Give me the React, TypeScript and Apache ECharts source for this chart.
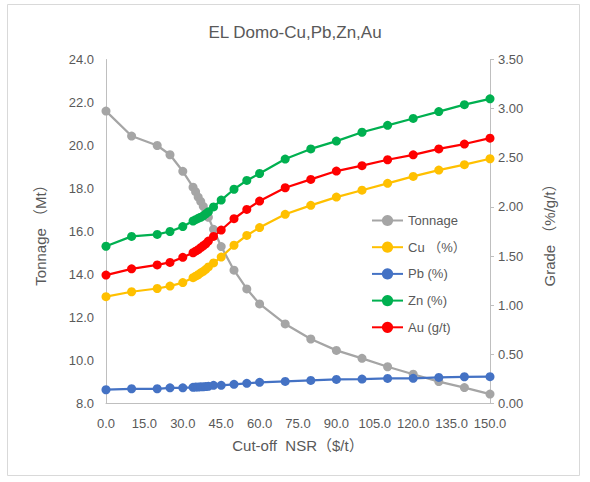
import React, { useEffect, useRef } from "react";
import * as echarts from "echarts";

const cutoff = [0, 10, 20, 25, 30, 34, 35, 36, 37, 38, 39, 40, 42, 45, 50, 55, 60, 70, 80, 90, 100, 110, 120, 130, 140, 150];
const tonnage = [21.6, 20.44, 20.0, 19.57, 18.8, 18.06, 17.85, 17.6, 17.4, 17.17, 16.9, 16.66, 16.1, 15.3, 14.2, 13.33, 12.63, 11.7, 11.0, 10.47, 10.1, 9.71, 9.36, 9.02, 8.74, 8.44];
const cu = [1.087, 1.137, 1.17, 1.195, 1.23, 1.28, 1.295, 1.31, 1.33, 1.345, 1.365, 1.39, 1.43, 1.49, 1.61, 1.71, 1.79, 1.925, 2.016, 2.1, 2.17, 2.24, 2.31, 2.375, 2.43, 2.49];
const pb = [0.14, 0.15, 0.15, 0.16, 0.16, 0.165, 0.167, 0.168, 0.17, 0.17, 0.172, 0.175, 0.185, 0.185, 0.195, 0.205, 0.215, 0.225, 0.235, 0.245, 0.248, 0.255, 0.256, 0.265, 0.272, 0.273];
const zn = [1.6, 1.7, 1.72, 1.75, 1.8, 1.857, 1.87, 1.884, 1.895, 1.91, 1.93, 1.95, 2.0, 2.07, 2.18, 2.27, 2.34, 2.487, 2.59, 2.67, 2.76, 2.83, 2.9, 2.97, 3.04, 3.1];
const au = [1.307, 1.37, 1.41, 1.435, 1.487, 1.534, 1.55, 1.565, 1.585, 1.605, 1.625, 1.653, 1.7, 1.765, 1.88, 1.975, 2.06, 2.195, 2.28, 2.365, 2.42, 2.48, 2.53, 2.59, 2.64, 2.7];

const seriesNames = ["Tonnage", "Cu （%）", "Pb (%)", "Zn (%)", "Au (g/t)"];
const seriesColors = ["#A5A5A5", "#FFC000", "#4472C4", "#00B050", "#FF0000"];

const FONT = "'Liberation Sans', 'Noto Sans CJK SC', sans-serif";
const TXT = "#595959";
const AXIS = "#BFBFBF";

function pairs(ys: number[]) {
  return cutoff.map((x, i) => [x, ys[i]]);
}

export default function App() {
  const ref = useRef<HTMLDivElement>(null);
  useEffect(() => {
    document.body.style.margin = "0";
    if (!ref.current) return;
    const chart = echarts.init(ref.current, undefined, { renderer: "svg" });
    const data = [tonnage, cu, pb, zn, au];
    chart.setOption({
      animation: false,
      backgroundColor: "#ffffff",
      textStyle: { fontFamily: FONT },
      title: {
        text: "EL Domo-Cu,Pb,Zn,Au",
        left: "center",
        top: 19,
        textStyle: { fontFamily: FONT, fontSize: 17, fontWeight: "normal", color: TXT },
      },
      graphic: [
        {
          type: "rect",
          shape: { x: 7.5, y: 4.5, width: 572, height: 471 },
          style: { fill: "none", stroke: "#D9D9D9", lineWidth: 1 },
          silent: true,
        },
      ],
      legend: {
        orient: "vertical",
        left: 371,
        top: 213.5,
        padding: 0,
        itemWidth: 31,
        itemHeight: 14,
        itemGap: 12.7,
        data: seriesNames,
        textStyle: { fontFamily: FONT, fontSize: 13, color: TXT, lineHeight: 14 },
      },
      grid: { left: 106, right: 100, top: 59.5, bottom: 78.5 },
      xAxis: {
        type: "value",
        min: 0,
        max: 150,
        interval: 15,
        name: "Cut-off  NSR（$/t）",
        nameLocation: "middle",
        nameGap: 34,
        nameTextStyle: { fontFamily: FONT, fontSize: 15, color: TXT },
        axisLine: { show: true, lineStyle: { color: AXIS } },
        axisTick: { show: false },
        splitLine: { show: false },
        axisLabel: {
          margin: 13,
          fontSize: 13,
          color: TXT,
          fontFamily: FONT,
          formatter: (v: number) => v.toFixed(1),
        },
      },
      yAxis: [
        {
          type: "value",
          min: 8,
          max: 24,
          interval: 2,
          position: "left",
          name: "Tonnage （Mt）",
          nameLocation: "middle",
          nameGap: 58,
          nameTextStyle: { fontFamily: FONT, fontSize: 15, color: TXT },
          axisLine: { show: true, lineStyle: { color: AXIS } },
          axisTick: { show: false },
          splitLine: { show: false },
          axisLabel: {
            margin: 12,
            fontSize: 13,
            color: TXT,
            fontFamily: FONT,
            formatter: (v: number) => v.toFixed(1),
          },
        },
        {
          type: "value",
          min: 0,
          max: 3.5,
          interval: 0.5,
          position: "right",
          name: "Grade （%/g/t）",
          nameLocation: "middle",
          nameGap: 52,
          nameTextStyle: { fontFamily: FONT, fontSize: 15, color: TXT },
          axisLine: { show: true, lineStyle: { color: AXIS } },
          axisTick: { show: true, length: 4, lineStyle: { color: AXIS } },
          splitLine: { show: false },
          axisLabel: {
            margin: 8,
            fontSize: 13,
            color: TXT,
            fontFamily: FONT,
            formatter: (v: number) => v.toFixed(2),
          },
        },
      ],
      series: seriesNames.map((name, i) => ({
        name,
        type: "line",
        yAxisIndex: i === 0 ? 0 : 1,
        data: pairs(data[i]),
        symbol: "circle",
        symbolSize: 9,
        showSymbol: true,
        color: seriesColors[i],
        lineStyle: { width: 2.25, color: seriesColors[i] },
        itemStyle: { color: seriesColors[i] },
      })),
    });
    return () => chart.dispose();
  }, []);
  return <div ref={ref} style={{ width: 590, height: 482 }} />;
}
